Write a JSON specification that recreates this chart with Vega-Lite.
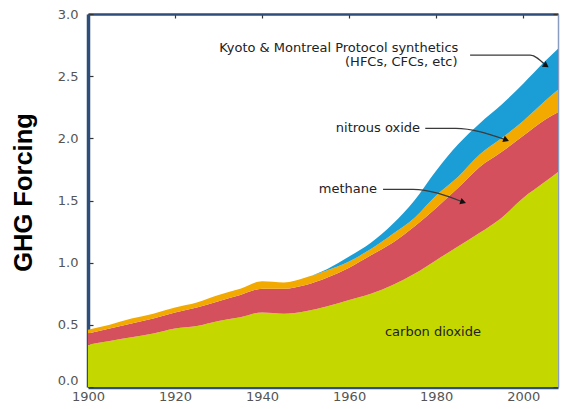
{
  "$schema": "https://vega.github.io/schema/vega-lite/v6.json",
  "width": 470,
  "height": 373,
  "autosize": {"type": "none"},
  "padding": {"left": 88, "top": 14, "right": 5, "bottom": 22},
  "background": "white",
  "config": {"view": {"stroke": null}, "font": "DejaVu Sans"},
  "datasets": {
    "forcing": [
      {"year": 1900, "carbon dioxide": 0.34, "methane": 0.09, "nitrous oxide": 0.03, "synthetics": 0.00},
      {"year": 1905, "carbon dioxide": 0.37, "methane": 0.10, "nitrous oxide": 0.03, "synthetics": 0.00},
      {"year": 1910, "carbon dioxide": 0.40, "methane": 0.11, "nitrous oxide": 0.04, "synthetics": 0.00},
      {"year": 1915, "carbon dioxide": 0.43, "methane": 0.12, "nitrous oxide": 0.04, "synthetics": 0.00},
      {"year": 1920, "carbon dioxide": 0.47, "methane": 0.13, "nitrous oxide": 0.04, "synthetics": 0.00},
      {"year": 1925, "carbon dioxide": 0.49, "methane": 0.15, "nitrous oxide": 0.04, "synthetics": 0.00},
      {"year": 1930, "carbon dioxide": 0.53, "methane": 0.16, "nitrous oxide": 0.05, "synthetics": 0.00},
      {"year": 1935, "carbon dioxide": 0.56, "methane": 0.18, "nitrous oxide": 0.05, "synthetics": 0.00},
      {"year": 1940, "carbon dioxide": 0.60, "methane": 0.19, "nitrous oxide": 0.06, "synthetics": 0.00},
      {"year": 1945, "carbon dioxide": 0.59, "methane": 0.20, "nitrous oxide": 0.05, "synthetics": 0.00},
      {"year": 1950, "carbon dioxide": 0.61, "methane": 0.21, "nitrous oxide": 0.06, "synthetics": 0.00},
      {"year": 1955, "carbon dioxide": 0.65, "methane": 0.23, "nitrous oxide": 0.06, "synthetics": 0.01},
      {"year": 1960, "carbon dioxide": 0.70, "methane": 0.26, "nitrous oxide": 0.05, "synthetics": 0.04},
      {"year": 1965, "carbon dioxide": 0.75, "methane": 0.31, "nitrous oxide": 0.05, "synthetics": 0.05},
      {"year": 1970, "carbon dioxide": 0.82, "methane": 0.34, "nitrous oxide": 0.07, "synthetics": 0.08},
      {"year": 1975, "carbon dioxide": 0.91, "methane": 0.38, "nitrous oxide": 0.07, "synthetics": 0.14},
      {"year": 1980, "carbon dioxide": 1.02, "methane": 0.42, "nitrous oxide": 0.10, "synthetics": 0.20},
      {"year": 1985, "carbon dioxide": 1.13, "methane": 0.47, "nitrous oxide": 0.09, "synthetics": 0.26},
      {"year": 1990, "carbon dioxide": 1.24, "methane": 0.53, "nitrous oxide": 0.10, "synthetics": 0.25},
      {"year": 1995, "carbon dioxide": 1.36, "methane": 0.53, "nitrous oxide": 0.11, "synthetics": 0.27},
      {"year": 2000, "carbon dioxide": 1.52, "methane": 0.50, "nitrous oxide": 0.12, "synthetics": 0.30},
      {"year": 2005, "carbon dioxide": 1.65, "methane": 0.50, "nitrous oxide": 0.15, "synthetics": 0.32},
      {"year": 2008, "carbon dioxide": 1.73, "methane": 0.48, "nitrous oxide": 0.18, "synthetics": 0.33}
    ],
    "arrows": [
      {"arrow": "kyoto", "step": 1, "year": 1987.8, "value": 2.67},
      {"arrow": "kyoto", "step": 2, "year": 2001.6, "value": 2.67},
      {"arrow": "kyoto", "step": 3, "year": 2005.1, "value": 2.59},
      {"arrow": "nitrous", "step": 1, "year": 1977.5, "value": 2.08},
      {"arrow": "nitrous", "step": 2, "year": 1984.5, "value": 2.08},
      {"arrow": "nitrous", "step": 3, "year": 1995.9, "value": 1.99},
      {"arrow": "methane", "step": 1, "year": 1967.8, "value": 1.59},
      {"arrow": "methane", "step": 2, "year": 1974.7, "value": 1.59},
      {"arrow": "methane", "step": 3, "year": 1986.0, "value": 1.49}
    ],
    "heads": [
      {"arrow": "kyoto", "year": 2005.1, "value": 2.59, "dir": 124},
      {"arrow": "nitrous", "year": 1995.9, "value": 1.99, "dir": 112},
      {"arrow": "methane", "year": 1986.0, "value": 1.49, "dir": 108}
    ],
    "labels": [
      {"text": "Kyoto & Montreal Protocol synthetics", "year": 1985.1, "value": 2.727},
      {"text": "(HFCs, CFCs, etc)", "year": 1984.9, "value": 2.615},
      {"text": "nitrous oxide", "year": 1976.3, "value": 2.08},
      {"text": "methane", "year": 1966.4, "value": 1.593},
      {"text": "carbon dioxide", "year": 1990.3, "value": 0.442}
    ]
  },
  "resolve": {"axis": {"x": "independent", "y": "independent"}},
  "layer": [
    {
      "data": {"name": "forcing"},
      "transform": [
        {"fold": ["carbon dioxide", "methane", "nitrous oxide", "synthetics"], "as": ["gas", "forcing"]}
      ],
      "mark": {"type": "area", "interpolate": "monotone"},
      "encoding": {
        "x": {
          "field": "year", "type": "quantitative",
          "scale": {"domain": [1900, 2008], "nice": false, "zero": false},
          "axis": {
            "values": [1900, 1920, 1940, 1960, 1980, 2000], "format": "d", "title": null, "grid": false, "labelFlush": false,
            "domainColor": "#2e4d7b", "domainWidth": 3.5, "tickColor": "#222", "tickSize": -4, "tickWidth": 1.5,
            "labelColor": "#555", "labelFontSize": 13, "labelPadding": 7, "labelFont": "DejaVu Sans"
          }
        },
        "y": {
          "field": "forcing", "type": "quantitative", "stack": "zero",
          "scale": {"domain": [0, 3], "nice": false},
          "axis": {
            "values": [0, 0.5, 1, 1.5, 2, 2.5, 3], "format": ".1f", "grid": false, "labelFlush": false,
            "labelBaseline": {"condition": {"test": "datum.value === 0", "value": "bottom"}, "value": "middle"},
            "title": "GHG Forcing", "titleFont": "Liberation Sans", "titleFontSize": 25.5, "titleFontWeight": "bold",
            "titleColor": "#000", "titlePadding": 21, "titleY": 178,
            "domainColor": "#2e4d7b", "domainWidth": 3.5, "tickColor": "#333", "tickSize": -5, "tickWidth": 1.2,
            "labelColor": "#555", "labelFontSize": 13, "labelPadding": 15, "labelFont": "DejaVu Sans"
          }
        },
        "color": {
          "field": "gas", "type": "nominal", "legend": null,
          "scale": {
            "domain": ["carbon dioxide", "methane", "nitrous oxide", "synthetics"],
            "range": ["#c4d800", "#d4505c", "#f2a900", "#1b9ed6"]
          }
        },
        "order": {"field": "gas", "type": "nominal", "sort": "ascending"}
      }
    },
    {
      "data": {"name": "arrows"},
      "mark": {"type": "line", "color": "#3a3a3a", "strokeWidth": 1.2, "interpolate": "monotone"},
      "encoding": {
        "x": {
          "field": "year", "type": "quantitative",
          "scale": {"domain": [1900, 2008], "nice": false, "zero": false},
          "axis": {
            "orient": "top", "values": [1900, 1920, 1940, 1960, 1980, 2000], "labels": false, "title": null, "grid": false,
            "domainColor": "#2e4d7b", "domainWidth": 2.5, "tickColor": "#333", "tickSize": -4, "tickWidth": 1.2
          }
        },
        "y": {
          "field": "value", "type": "quantitative",
          "scale": {"domain": [0, 3], "nice": false},
          "axis": {
            "orient": "right", "values": [0, 0.5, 1, 1.5, 2, 2.5, 3], "labels": false, "title": null, "grid": false,
            "domainColor": "#8a9cc0", "domainWidth": 1.5, "tickColor": "#333", "tickSize": -5, "tickWidth": 1.2
          }
        },
        "detail": {"field": "arrow", "type": "nominal"},
        "order": {"field": "step", "type": "quantitative"}
      }
    },
    {
      "data": {"name": "heads"},
      "mark": {"type": "point", "shape": "triangle", "filled": true, "color": "#111", "size": 45, "opacity": 1},
      "encoding": {
        "x": {"field": "year", "type": "quantitative", "scale": {"domain": [1900, 2008], "nice": false, "zero": false}, "axis": null},
        "y": {"field": "value", "type": "quantitative", "scale": {"domain": [0, 3], "nice": false}, "axis": null},
        "angle": {"field": "dir", "type": "quantitative", "scale": null}
      }
    },
    {
      "data": {"name": "labels"},
      "mark": {"type": "text", "align": "right", "baseline": "middle", "font": "DejaVu Sans", "fontSize": 13, "color": "#222"},
      "encoding": {
        "x": {"field": "year", "type": "quantitative", "scale": {"domain": [1900, 2008], "nice": false, "zero": false}, "axis": null},
        "y": {"field": "value", "type": "quantitative", "scale": {"domain": [0, 3], "nice": false}, "axis": null},
        "text": {"field": "text", "type": "nominal"}
      }
    }
  ]
}
